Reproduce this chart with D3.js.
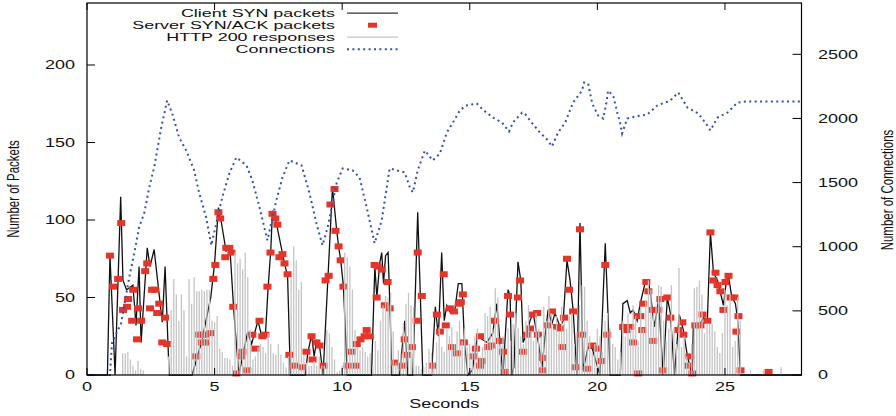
<!DOCTYPE html>
<html>
<head>
<meta charset="utf-8">
<script src="https://cdn.jsdelivr.net/npm/d3@7"></script>
<style>
  body { margin: 0; background: #fff; }
  svg { display: block; }
  text { font-family: "Liberation Sans", Arial, Helvetica, sans-serif; fill: #111; }
</style>
</head>
<body>
<svg id="chart" width="896" height="416"></svg>
<script>
// ---- data ----
var xTicks = [0, 5, 10, 15, 20, 25];
var yTicksLeft = [0, 50, 100, 150, 200];
var yTicksRight = [0, 500, 1000, 1500, 2000, 2500];
var legendLabels = ["Client SYN packets", "Server SYN/ACK packets", "HTTP 200 responses", "Connections"];

// client SYN packets per sample [seconds, packets]
var clientSyn = [[0,0],[0.8,0],[0.9,77],[1.1,0],[1.32,115],[1.41,61],[1.55,55],[1.8,58],[1.92,32],[2.04,70],[2.12,21],
  [2.36,82],[2.47,70],[2.63,81],[2.95,34],[3.06,70],[3.22,0],[4.12,0],[4.5,22],[4.85,50],[5.0,72],[5.15,108],[5.25,100],
  [5.45,80],[5.6,82],[5.75,42],[5.95,0],[6.1,12],[6.3,28],[6.45,20],[6.7,35],[6.85,25],[7.0,28],[7.1,57],[7.2,80],[7.27,106],
  [7.42,98],[7.74,72],[7.86,64],[7.97,0],[8.55,0],[8.65,14],[8.8,26],[8.9,12],[9.0,22],[9.12,18],[9.25,0],[9.62,121],
  [9.78,94],[9.86,83],[9.95,73],[10.05,57],[10.2,0],[11.15,0],[11.28,70],[11.36,50],[11.47,72],[11.55,79],[11.62,59],
  [11.7,77],[11.8,79],[11.88,40],[11.94,0],[12.25,0],[12.45,35],[12.57,0],[12.77,0],[12.96,105],[13.16,0],[13.5,0],
  [13.65,44],[13.77,25],[13.9,79],[14.0,35],[14.1,45],[14.25,40],[14.4,40],[14.55,59],[14.69,59],[14.8,19],[14.93,0],
  [15.1,3],[15.3,25],[15.67,21],[15.9,27],[16.06,46],[16.18,22],[16.3,0],[16.5,55],[16.58,51],[16.65,0],[16.73,5],
  [16.89,73],[17.0,61],[17.09,21],[17.24,27],[17.36,35],[17.48,40],[17.56,33],[17.67,23],[17.83,5],[17.95,25],[18.07,42],
  [18.22,33],[18.34,40],[18.54,31],[18.66,35],[18.81,74],[18.93,61],[19.05,42],[19.2,0],[19.32,98],[19.44,3],[19.64,18],
  [19.8,17],[20.1,0],[20.31,85],[20.42,38],[20.5,0],[20.9,0],[21.0,46],[21.17,48],[21.29,40],[21.4,42],[21.56,35],
  [21.68,46],[21.88,60],[22.0,61],[22.1,50],[22.23,31],[22.4,48],[22.58,0],[22.74,50],[22.86,40],[23.02,0],[23.21,39],
  [23.37,29],[23.53,12],[23.72,0],[23.76,31],[23.96,31],[24.16,37],[24.31,35],[24.43,92],[24.55,66],[24.71,61],
  [24.94,45],[25.06,61],[25.14,64],[25.26,51],[25.41,46],[25.49,37],[25.61,0],[28,0]];

// server SYN/ACK packets [seconds, packets]
var serverSynAck = [[0.9,77],[1.02,57],[1.22,62],[1.34,98],[1.41,42],[1.57,44],[1.61,49],[1.77,35],[1.81,55],[1.96,23],
  [2.0,43],[2.12,35],[2.28,67],[2.36,72],[2.47,43],[2.55,55],[2.67,55],[2.75,40],[2.83,46],[2.95,21],[3.06,37],[3.14,20],
  [4.28,12],[4.4,26],[4.5,26],[4.5,21],[4.63,21],[4.66,26],[4.83,27],[4.95,62],[5.03,71],[5.15,105],[5.22,101],[5.42,76],
  [5.46,82],[5.58,82],[5.66,79],[5.73,44],[5.85,1],[6.05,12],[6.09,15],[6.28,3],[6.48,26],[6.6,17],[6.76,35],[6.87,25],
  [6.99,26],[7.07,57],[7.19,79],[7.27,104],[7.38,101],[7.46,97],[7.54,76],[7.66,78],[7.74,72],[7.86,65],[7.93,13],
  [8.13,6],[8.45,5],[8.6,15],[8.8,25],[8.84,10],[8.99,21],[9.11,19],[9.27,6],[9.35,61],[9.47,64],[9.54,110],[9.7,120],
  [9.74,93],[9.86,83],[9.94,74],[10.05,57],[10.21,6],[10.37,15],[10.53,6],[10.57,20],[10.72,23],[10.88,25],[10.96,29],
  [11.08,25],[11.27,71],[11.35,50],[11.39,70],[11.55,68],[11.67,45],[11.78,60],[11.86,43],[12.06,8],[12.33,6],[12.45,23],
  [12.53,13],[12.73,18],[12.92,35],[12.96,79],[13.12,51],[13.55,6],[13.71,39],[13.83,28],[13.98,65],[14.06,32],[14.22,43],
  [14.3,18],[14.38,41],[14.49,14],[14.57,46],[14.65,47],[14.73,52],[14.77,21],[15.12,12],[15.24,17],[15.4,25],[15.4,6],
  [15.48,9],[15.71,18],[15.87,19],[15.99,35],[16.18,22],[16.3,15],[16.38,2],[16.5,51],[16.58,39],[16.89,50],[16.97,61],
  [17.09,15],[17.24,26],[17.36,30],[17.48,39],[17.64,40],[17.67,26],[17.83,11],[17.83,3],[18.03,32],[18.22,41],[18.42,31],
  [18.54,30],[18.62,18],[18.7,37],[18.81,75],[18.89,55],[19.05,41],[19.13,5],[19.32,94],[19.4,26],[19.6,4],[19.8,19],
  [19.99,17],[20.15,9],[20.31,71],[20.39,26],[21.01,31],[21.17,29],[21.29,31],[21.4,21],[21.56,38],[21.6,1],[21.68,38],
  [21.76,29],[21.8,46],[21.92,60],[22.0,54],[22.15,42],[22.19,22],[22.39,42],[22.47,49],[22.58,3],[22.74,50],[22.86,37],
  [23.17,29],[23.33,34],[23.37,26],[23.57,6],[23.61,12],[23.72,1],[23.84,32],[24.04,32],[24.12,39],[24.31,35],[24.43,92],
  [24.55,61],[24.63,66],[24.71,58],[24.82,54],[24.94,42],[25.02,60],[25.14,64],[25.22,50],[25.37,50],[25.45,28],[25.53,38],
  [25.61,3],[26.71,2]];

// HTTP 200 responses, one impulse every 0.1 s starting at httpStart
var httpStart = 1.4, httpStep = 0.1;
var httpValues = [14,14,15,10,6,3,9,4,3,0, 0,0,0,0,0,0,0,0, 12,42,62,52,35,52,42,12,
  62,46,63,54,54,55,54,55,55,35, 34,38,17,15,11,11,10,6, 79,72,75,68,79,63, 29,10,12,18,20,18,14,27,
  20,14,13,20,13,8,5,12, 63,83,74,55,60, 13,8,6,6,9,6,12,6,6, 29,27,18,10, 2,3,6, 79,76,70,55,
  29,18,16,18,15,12,14,6,22,16, 35,45,51,50,53, 28,8,16,14, 33,46,53,45,44, 6,6,4,5,8,17,14,8,
  21,31,18,15,30, 25,31,20,28,35,22,30,18, 20,15,25,30,12,18,40,38,44,30, 56,50,20,25,12,30,22,33,40,30,
  25,20,35,45,28,22,40,30,25,44, 35,51,40,30,38,28,44,35,30,38, 40,20,28,45,58,57,35,25,15,20,
  30,25,15,35,40,30,20,18,10,15, 35,25,40,30,45,38,22,44,30,48, 61,55,40,44,58,57,35,22,30,58,
  30,20,69,18,25,12,8,20,56,57, 61,52,27,33,33,33,28,18,14,27, 55,45,52,18,22,50,35,
  0,0,0,3,0,0,0,0,3,0,0,0,0,0,0,5];

// open connections [seconds, connections]
var connections = [[0,0],[0.9,0],[0.98,249],[1.34,405],[1.65,755],[1.85,949],[2.04,1151],[2.24,1260],[2.44,1463],
  [2.63,1618],[2.91,1929],[3.14,2140],[3.34,2038],[3.61,1852],[3.89,1750],[4.2,1595],[4.4,1416],[4.67,1229],[4.87,1011],
  [5.07,1183],[5.3,1385],[5.58,1572],[5.85,1696],[6.25,1634],[6.48,1517],[6.76,1307],[7.07,1050],[7.42,1361],[7.66,1540],
  [7.93,1673],[8.41,1634],[8.72,1416],[8.99,1183],[9.23,1011],[9.43,1151],[9.78,1494],[10.02,1610],[10.41,1595],
  [10.68,1540],[10.96,1307],[11.27,1027],[11.55,1206],[11.86,1610],[12.45,1579],[12.65,1463],[12.77,1424],[12.96,1595],
  [13.24,1750],[13.55,1673],[13.83,1727],[14.1,1890],[14.34,1968],[14.61,2062],[14.85,2101],[15.28,2116],[15.51,2069],
  [15.91,2007],[16.26,1968],[16.54,1898],[16.69,1968],[17.05,2046],[17.16,2038],[17.36,1984],[17.75,1890],[18.03,1836],
  [18.22,1782],[18.46,1890],[18.74,1968],[19.05,2124],[19.4,2217],[19.48,2280],[19.64,2272],[19.8,2116],[20.03,2023],
  [20.23,1999],[20.35,2116],[20.42,2217],[20.62,2178],[20.78,2046],[20.9,1960],[20.97,1883],[21.17,1999],[21.48,2015],
  [21.96,2031],[22.35,2101],[22.86,2140],[23.17,2202],[23.53,2085],[23.96,2038],[24.31,1945],[24.43,1906],[24.71,2007],
  [25.1,2046],[25.49,2124],[25.81,2132],[28,2132]];

// ---- layout ----
var svg = d3.select("#chart");
var plotL = 87, plotR = 801.5, plotT = 3, plotB = 375;
var SX = 1.5; // glyphs in the picture are stretched sideways

var x = d3.scaleLinear().domain([0, 28]).range([plotL, plotR]);
var y = d3.scaleLinear().domain([0, 240]).range([plotB, plotT]);
var y2 = d3.scaleLinear().domain([0, 2900]).range([plotB, plotT]);

function label(str, px, py, anchor, size, rot, sx) {
  var g = svg.append("g")
    .attr("transform", "translate(" + px + "," + py + ") scale(" + (sx || SX) + ",1)" + (rot ? " rotate(-90)" : ""));
  g.append("text")
    .attr("text-anchor", anchor)
    .attr("dominant-baseline", "central")
    .style("font-size", size + "px")
    .text(str);
}

// client SYN line
svg.append("path")
  .datum(clientSyn)
  .attr("fill", "none")
  .attr("stroke", "#111")
  .attr("stroke-width", 1.3)
  .attr("d", d3.line().x(d => x(d[0])).y(d => y(d[1])));

// server SYN/ACK points
svg.append("g").selectAll("rect")
  .data(serverSynAck)
  .enter().append("rect")
  .attr("x", d => x(d[0]) - 4)
  .attr("y", d => y(d[1]) - 3)
  .attr("width", 8)
  .attr("height", 6)
  .attr("fill", "#e3352a");

// HTTP 200 impulses
svg.append("g").selectAll("line")
  .data(httpValues)
  .enter().append("line")
  .attr("x1", (d, i) => x(httpStart + i * httpStep))
  .attr("x2", (d, i) => x(httpStart + i * httpStep))
  .attr("y1", y(0))
  .attr("y2", d => y(d))
  .attr("stroke", "#c4c4c4")
  .attr("stroke-width", 1.3);

// connections dotted line
svg.append("path")
  .datum(connections)
  .attr("fill", "none")
  .attr("stroke", "#3550b4")
  .attr("stroke-width", 2)
  .attr("stroke-dasharray", "2,3.4")
  .attr("d", d3.line().x(d => x(d[0])).y(d => y2(d[1])));

// frame
svg.append("rect")
  .attr("x", plotL).attr("y", plotT)
  .attr("width", plotR - plotL).attr("height", plotB - plotT)
  .attr("fill", "none").attr("stroke", "#000").attr("stroke-width", 1.2);

// ticks
var tk = svg.append("g").attr("stroke", "#000").attr("stroke-width", 1);
xTicks.forEach(function(t) {
  tk.append("line").attr("x1", x(t)).attr("x2", x(t)).attr("y1", plotB).attr("y2", plotB - 7);
  tk.append("line").attr("x1", x(t)).attr("x2", x(t)).attr("y1", plotT).attr("y2", plotT + 7);
  label(String(t), x(t), 387, "middle", 12);
});
yTicksLeft.forEach(function(t) {
  tk.append("line").attr("x1", plotL).attr("x2", plotL + 8).attr("y1", y(t)).attr("y2", y(t));
  label(String(t), 75, y(t), "end", 12);
});
yTicksRight.forEach(function(t) {
  tk.append("line").attr("x1", plotR).attr("x2", plotR - 9).attr("y1", y2(t)).attr("y2", y2(t));
  label(String(t), 818, y2(t), "start", 12);
});

// axis titles
label("Seconds", (plotL + plotR) / 2, 404, "middle", 12);
label("Number of Packets", 13, 189, "middle", 11.5, true);
label("Number of Connections", 887, 190, "middle", 11.5, true);

// legend
var legY = [13.2, 25.2, 37.2, 49.2];
legendLabels.forEach(function(s, i) {
  label(s, 335, legY[i], "end", 10.4, false, 1.72);
});
svg.append("line").attr("x1", 347).attr("x2", 398).attr("y1", legY[0]).attr("y2", legY[0])
  .attr("stroke", "#333").attr("stroke-width", 1.3);
svg.append("rect").attr("x", 368).attr("y", legY[1] - 2.5).attr("width", 9).attr("height", 5).attr("fill", "#e3352a");
svg.append("line").attr("x1", 347).attr("x2", 398).attr("y1", legY[2]).attr("y2", legY[2])
  .attr("stroke", "#c4c4c4").attr("stroke-width", 1.3);
svg.append("line").attr("x1", 347).attr("x2", 398).attr("y1", legY[3]).attr("y2", legY[3])
  .attr("stroke", "#3550b4").attr("stroke-width", 2).attr("stroke-dasharray", "2,3.4");
</script>
</body>
</html>
